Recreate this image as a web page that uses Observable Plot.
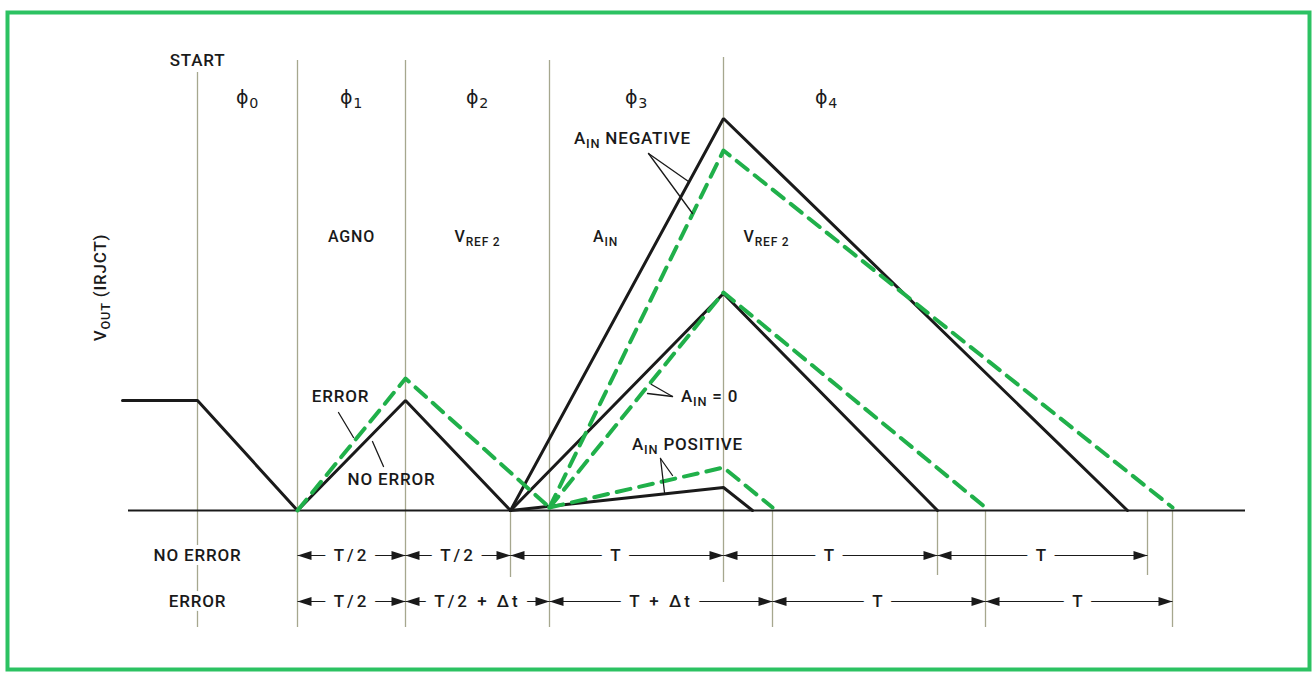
<!DOCTYPE html>
<html><head><meta charset="utf-8">
<script src="https://cdn.jsdelivr.net/npm/d3@7"></script>
<script src="https://cdn.jsdelivr.net/npm/@observablehq/plot@0.6"></script>
<style>
html,body{margin:0;padding:0;background:#fff;}
svg text{letter-spacing:0.8px;}
svg text.dimlabel{letter-spacing:3px;}
</style></head><body><div id="chart"></div>
<script>
// ---- data: time t (arbitrary units, START = 0), output voltage v (baseline = 0) ----
const peakT = 526;
const noErrorRampT = [-75, 0, 100, 208, 313];
const noErrorRampV = [110, 110, 0, 110, 0];
const cases = ["negative", "zero", "positive"];
const noErrorPeakV = [392, 217, 23];
const noErrorEndT = [930, 740, 555];
const errorRampT = [100, 208, 352];
const errorRampV = [0, 132, 3];
const errorPeakV = [360, 218, 43];
const errorEndT = [975, 788, 575];
const baselineT = [-69, 1048];

const phaseT = [0, 100, 208, 352, 526];
const phaseTopV = [438, 450, 450, 450, 453];
const phaseBottomV = [-117, -117, -117, -117, -72];
const phaseNames = ["ϕ{0}", "ϕ{1}", "ϕ{2}", "ϕ{3}", "ϕ{4}"];
const phaseNameT = [50, 154, 280, 439, 629];
const phaseNameV = 413;
const phaseInputs = ["AGNO", "V{REF 2}", "A{IN}", "V{REF 2}"];
const phaseInputT = [154, 280, 408, 569];
const phaseInputV = 274;

const tickT = [313, 575, 740, 788, 950, 975];
const tickBottomV = [-67, -117, -65, -117, -65, -117];

const rowNames = ["NO ERROR", "ERROR"];
const rowV = [-45, -91];
const noErrorDimFrom = [100, 208, 313, 526, 740];
const noErrorDimTo = [208, 313, 526, 740, 950];
const noErrorDimLabels = ["T/2", "T/2", "T", "T", "T"];
const errorDimFrom = [100, 208, 352, 575, 788];
const errorDimTo = [208, 352, 575, 788, 975];
const errorDimLabels = ["T/2", "T/2 + Δt", "T + Δt", "T", "T"];

const noteText = ["ERROR", "NO ERROR", "A{IN} NEGATIVE", "A{IN} = 0", "A{IN} POSITIVE"];
const noteT = [143, 194, 435, 512, 490];
const noteV = [114, 31, 372, 114, 66];
const pointerFromT = [141, 186, 451, 451, 475, 475, 463, 463];
const pointerFromV = [98, 44, 357, 357, 114, 114, 52, 52];
const pointerToT = [156, 175, 491, 495, 454, 450, 475, 467];
const pointerToV = [73, 69, 329, 297, 126, 117, 35, 18];
const pointerBend = [-10, 10, 30, 30, 15, 15, 10, -10];

const startLabel = "START";
const axisLabel = "V{OUT} (IRJCT)";
const axisLabelT = -97, axisLabelV = 223;

// ---- build tables ----
function buildPaths(rampT, rampV, peaks, ends) {
  const rows = rampT.map((t, i) => ({t, v: rampV[i], id: "ramp"}));
  const t0 = rampT[rampT.length - 1], v0 = rampV[rampV.length - 1];
  cases.forEach((c, i) => {
    rows.push({t: t0, v: v0, id: c}, {t: peakT, v: peaks[i], id: c}, {t: ends[i], v: v0, id: c});
  });
  return rows;
}
const solid = buildPaths(noErrorRampT, noErrorRampV, noErrorPeakV, noErrorEndT);
const dashed = buildPaths(errorRampT, errorRampV, errorPeakV, errorEndT);

const phases = phaseT.map((t, i) => ({t, top: phaseTopV[i], bottom: phaseBottomV[i]}));
const ticks = tickT.map((t, i) => ({t, bottom: tickBottomV[i]}));
const dims = [
  ...noErrorDimFrom.map((a, i) => ({a, b: noErrorDimTo[i], label: noErrorDimLabels[i], v: rowV[0]})),
  ...errorDimFrom.map((a, i) => ({a, b: errorDimTo[i], label: errorDimLabels[i], v: rowV[1]}))
];
const heads = dims.flatMap(d => [{t: d.a, v: d.v, rot: 180}, {t: d.b, v: d.v, rot: 0}]);
const notes = noteText.map((s, i) => ({s, t: noteT[i], v: noteV[i]}));
const pointers = pointerFromT.map((t, i) => ({x1: t, y1: pointerFromV[i], x2: pointerToT[i], y2: pointerToV[i], bend: pointerBend[i]}));

const headSymbol = {draw(ctx) { ctx.moveTo(0, 0); ctx.lineTo(-14, -4.5); ctx.lineTo(-14, 4.5); ctx.closePath(); }};

const ink = "#1a1a1a", grid = "#a6a78e", green = "#20b04a", frameGreen = "#2cc262";
const font = "Roboto, 'Liberation Sans', sans-serif";

const chart = Plot.plot({
  width: 1313, height: 673,
  marginLeft: 0, marginRight: 0, marginTop: 0, marginBottom: 0,
  x: {domain: [-197, 1116], axis: null},
  y: {domain: [-163, 510], axis: null},
  style: {fontFamily: font, background: "#fff", color: ink},
  marks: [
    Plot.frame({stroke: frameGreen, strokeWidth: 4, insetLeft: 7, insetTop: 12, insetRight: 4, insetBottom: 4}),
    Plot.ruleX(phases, {x: "t", y1: "top", y2: "bottom", stroke: grid, strokeWidth: 1.3}),
    Plot.ruleX(ticks, {x: "t", y1: 0, y2: "bottom", stroke: grid, strokeWidth: 1.3}),
    Plot.ruleY([0], {x1: baselineT[0], x2: baselineT[1], stroke: ink, strokeWidth: 2}),
    Plot.line(solid, {x: "t", y: "v", z: "id", stroke: ink, strokeWidth: 3, strokeLinejoin: "miter"}),
    Plot.line(dashed, {x: "t", y: "v", z: "id", stroke: green, strokeWidth: 4, strokeDasharray: "14 9"}),
    Plot.link(dims, {x1: "a", x2: "b", y1: "v", y2: "v", stroke: ink, strokeWidth: 1.1}),
    Plot.dot(heads, {x: "t", y: "v", rotate: "rot", symbol: headSymbol, fill: ink, stroke: "none"}),
    Plot.text(dims, {x: d => (d.a + d.b) / 2, y: "v", text: "label", fontSize: 17, fontWeight: 500, fill: ink, stroke: "white", strokeWidth: 20, className: "dimlabel"}),
    Plot.text(rowNames, {x: 0, y: (d, i) => rowV[i], text: d => d, fontSize: 17, fontWeight: 500, fill: ink, stroke: "white", strokeWidth: 8}),
    Plot.text([startLabel], {x: 0, y: 450, text: d => d, fontSize: 17, fontWeight: 500, fill: ink}),
    Plot.text(phaseNames, {x: (d, i) => phaseNameT[i], y: phaseNameV, text: d => d, fontSize: 19, fontFamily: "'DejaVu Sans', sans-serif", fill: ink}),
    Plot.text(phaseInputs, {x: (d, i) => phaseInputT[i], y: phaseInputV, text: d => d, fontSize: 16, fontWeight: 500, fill: ink}),
    Plot.text([axisLabel], {x: axisLabelT, y: axisLabelV, text: d => d, rotate: -90, fontSize: 17, fontWeight: 500, fill: ink}),
    Plot.text(notes, {x: "t", y: "v", text: "s", fontSize: 17, fontWeight: 500, fill: ink}),
    Plot.arrow(pointers, {x1: "x1", y1: "y1", x2: "x2", y2: "y2", bend: "bend", stroke: ink, strokeWidth: 1.3, headLength: 9})
  ]
});

// dimension labels get wider tracking
chart.querySelectorAll("g.dimlabel text").forEach(el => el.classList.add("dimlabel"));

// subscripts: {..} -> lowered smaller tspan
chart.querySelectorAll("text").forEach(el => {
  const s = el.textContent;
  if (!s.includes("{")) return;
  el.textContent = "";
  let lowered = false;
  s.split(/(\{[^}]*\})/).forEach(p => {
    if (!p) return;
    const ts = document.createElementNS("http://www.w3.org/2000/svg", "tspan");
    if (p.startsWith("{")) {
      ts.textContent = p.slice(1, -1);
      ts.style.fontSize = "0.75em";
      ts.setAttribute("dy", "4");
      lowered = true;
    } else {
      ts.textContent = p;
      if (lowered) { ts.setAttribute("dy", "-4"); lowered = false; }
    }
    el.appendChild(ts);
  });
});
document.getElementById("chart").appendChild(chart);
</script></body></html>
